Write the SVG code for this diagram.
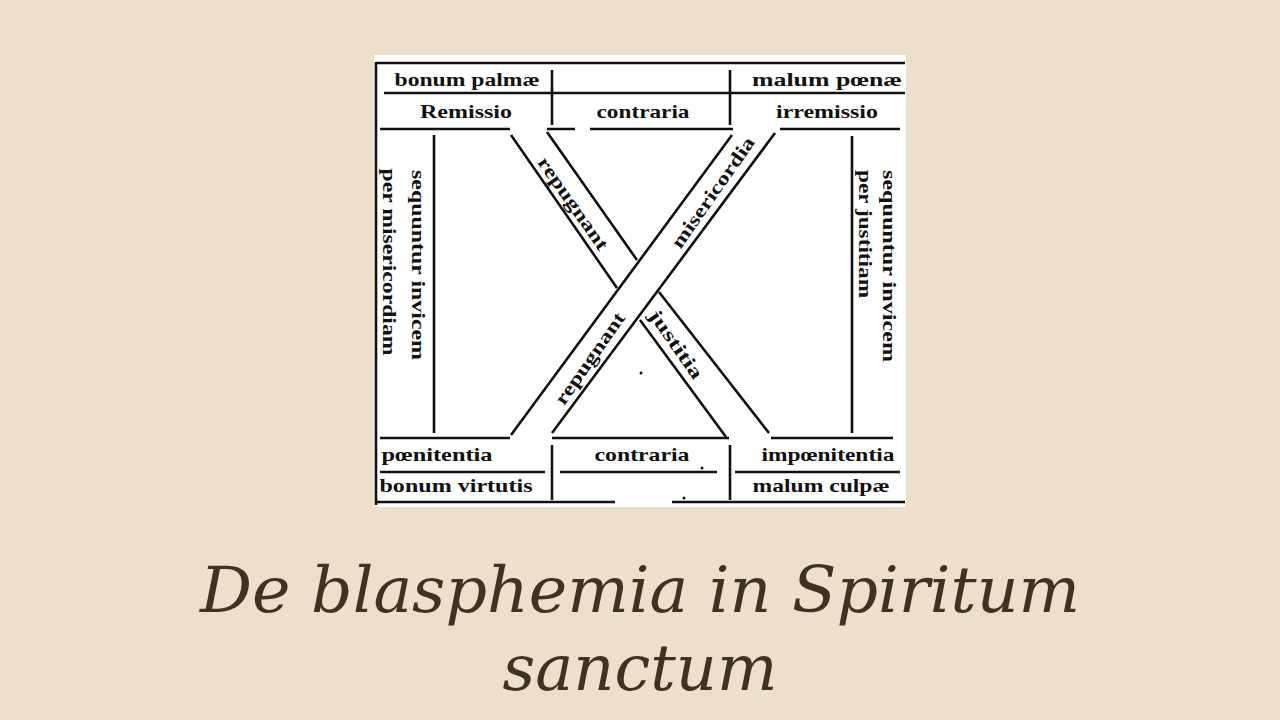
<svg xmlns="http://www.w3.org/2000/svg" width="1280" height="720" viewBox="0 0 1280 720">
<style>
.l{stroke:#111;stroke-width:2.6;fill:none}
.t{font-family:"Liberation Serif",serif;font-weight:bold;font-size:19px;fill:#111;text-anchor:middle}
.ti{font-family:"DejaVu Serif",serif;font-style:italic;font-size:64px;fill:#3f3222;text-anchor:middle}
</style>
<rect width="1280" height="720" fill="#ece0cb"/>
<rect x="374" y="55" width="532" height="452" fill="#fff"/>
<g id="lines">
<path class="l" d="M376 62V505M376 63H905M384 93H905M380 129H510M547 129H575M590 129H733M780 129H900M552 70V125M730 70V125M434 135V433M852 136V433M380 438H510M552 438H729M771 438H893M380 472H545M560 472H717M735 472H900M376 502H615M672 502H905M552 445V500M730 445V500"/>
<path class="l" d="M732 135L511 435M775 133L552 433"/>
<path class="l" d="M511 135L617 288M640 320L726 437M547 132L637 260M659 292L769 433"/>
<circle cx="641" cy="373" r="1.5" fill="#111"/><circle cx="702" cy="468" r="1.5" fill="#111"/><circle cx="684" cy="498" r="1.5" fill="#111"/>
</g>
<g id="labels">
<text class="t" x="467" y="86" textLength="145" lengthAdjust="spacingAndGlyphs">bonum palmæ</text>
<text class="t" x="827" y="86" textLength="150" lengthAdjust="spacingAndGlyphs">malum pœnæ</text>
<text class="t" x="466" y="118" textLength="92" lengthAdjust="spacingAndGlyphs">Remissio</text>
<text class="t" x="643" y="118" textLength="93" lengthAdjust="spacingAndGlyphs">contraria</text>
<text class="t" x="827" y="118" textLength="102" lengthAdjust="spacingAndGlyphs">irremissio</text>
<text class="t" x="437" y="461" textLength="111" lengthAdjust="spacingAndGlyphs">pœnitentia</text>
<text class="t" x="642" y="461" textLength="95" lengthAdjust="spacingAndGlyphs">contraria</text>
<text class="t" x="828" y="461" textLength="133" lengthAdjust="spacingAndGlyphs">impœnitentia</text>
<text class="t" x="456" y="492" textLength="153" lengthAdjust="spacingAndGlyphs">bonum virtutis</text>
<text class="t" x="821" y="492" textLength="137" lengthAdjust="spacingAndGlyphs">malum culpæ</text>
<text class="t" transform="translate(412 265) rotate(90)" textLength="190" lengthAdjust="spacingAndGlyphs">sequuntur invicem</text>
<text class="t" transform="translate(383 262) rotate(90)" textLength="187" lengthAdjust="spacingAndGlyphs">per misericordiam</text>
<text class="t" transform="translate(883 266) rotate(90)" textLength="192" lengthAdjust="spacingAndGlyphs">sequuntur invicem</text>
<text class="t" transform="translate(859 234) rotate(90)" textLength="128" lengthAdjust="spacingAndGlyphs">per justitiam</text>
<text class="t" transform="translate(568 207) rotate(55)" textLength="109" lengthAdjust="spacingAndGlyphs">repugnant</text>
<text class="t" transform="translate(671 348) rotate(55)" textLength="80" lengthAdjust="spacingAndGlyphs">justitia</text>
<text class="t" transform="translate(718 196) rotate(-55)" textLength="131" lengthAdjust="spacingAndGlyphs">misericordia</text>
<text class="t" transform="translate(595 362) rotate(-55)" textLength="108" lengthAdjust="spacingAndGlyphs">repugnant</text>
</g>
<g id="title">
<text class="ti" x="640" y="612" textLength="880" lengthAdjust="spacingAndGlyphs">De blasphemia in Spiritum</text>
<text class="ti" x="640" y="690" textLength="275" lengthAdjust="spacingAndGlyphs">sanctum</text>
</g>
</svg>
